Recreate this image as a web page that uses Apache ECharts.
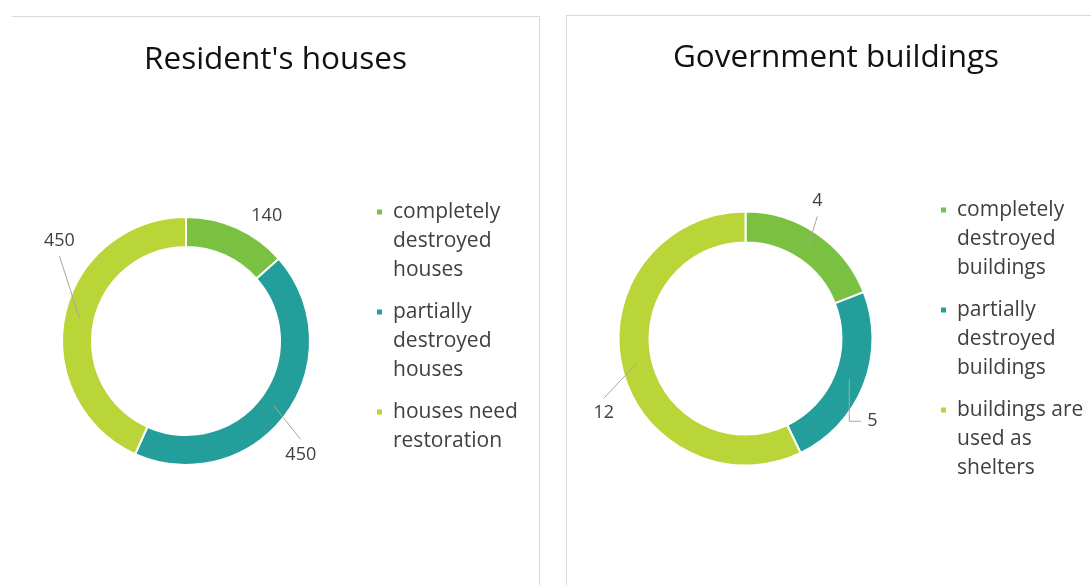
<!DOCTYPE html>
<html>
<head>
<meta charset="utf-8">
<title>Damage survey</title>
<script src="https://cdn.jsdelivr.net/npm/echarts@6/dist/echarts.min.js"></script>
<style>
  html, body { margin: 0; padding: 0; background: #fff; width: 1091px; height: 585px; overflow: hidden; }
  .panel { position: absolute; box-sizing: border-box; border: 0 solid #d9d9d9; }
  #panelHouses { left: 12px; top: 16px; width: 528px; height: 620px; border-top-width: 1px; border-right-width: 1px; }
  #panelBuildings { left: 566px; top: 15px; width: 539px; height: 620px; border-top-width: 1px; border-left-width: 1px; }
  .chart { position: absolute; left: 0; top: 0; right: 0; bottom: 0; }
</style>
</head>
<body>
<div class="panel" id="panelHouses"><div class="chart" id="chartHouses"></div></div>
<div class="panel" id="panelBuildings"><div class="chart" id="chartBuildings"></div></div>
<script>
// Resident's houses
const houseTitle = "Resident's houses";
const houseCategories = ['completely\ndestroyed\nhouses', 'partially\ndestroyed\nhouses', 'houses need\nrestoration'];
const houseValues = [140, 450, 450];

// Government buildings
const buildingTitle = 'Government buildings';
const buildingCategories = ['completely\ndestroyed\nbuildings', 'partially\ndestroyed\nbuildings', 'buildings are\nused as\nshelters'];
const buildingValues = [4, 5, 12];

const sliceColors = ['#7AC142', '#239E9A', '#B9D538'];
const FONT = 'Open Sans';
const LINE_H = 29;

// Label placement relative to the middle of each ring segment, and how the leader attaches
const houseLeaders = [
  { dx: 36, dy: -26, attach: 'none' },
  { dx: 27, dy: 49, attach: 'top' },
  { dx: -20, dy: -77, attach: 'bottom' }
];
const buildingLeaders = [
  { dx: 9, dy: -45, attach: 'bottom' },
  { dx: 23, dy: 42, attach: 'elbow' },
  { dx: -33, dy: 50, attach: 'top' }
];

function leaderLayout(values, center, radius, leaders) {
  const total = values.reduce((a, b) => a + b, 0);
  const rMid = (radius[0] + radius[1]) / 2;
  return function (params) {
    const i = params.dataIndex;
    let before = 0;
    for (let k = 0; k < i; k++) before += values[k];
    const mid = (before + values[i] / 2) / total * Math.PI * 2;
    const ax = center[0] + rMid * Math.sin(mid);
    const ay = center[1] - rMid * Math.cos(mid);
    const L = leaders[i];
    const lx = ax + L.dx, ly = ay + L.dy;
    const rect = params.labelRect;
    const halfH = rect.height / 2 + 6;
    const halfW = rect.width / 2 + 6;
    const out = { x: lx, y: ly, align: 'center', verticalAlign: 'middle' };
    if (L.attach === 'top') out.labelLinePoints = [[ax, ay], [lx, ly - halfH]];
    else if (L.attach === 'bottom') out.labelLinePoints = [[ax, ay], [lx, ly + halfH]];
    else if (L.attach === 'elbow') out.labelLinePoints = [[ax, ay], [ax, ly], [lx - halfW, ly]];
    return out;
  };
}

// One legend per entry so the marker sits beside the first line of a wrapped name
function legendsFor(categories, left, firstIconY) {
  return categories.map(function (name, i) {
    const lines = name.split('\n').length;
    return {
      data: [name],
      orient: 'vertical',
      left: left,
      top: firstIconY + 100 * i - (LINE_H / 2) * (2 * lines - 1),
      padding: 0,
      itemWidth: 7,
      itemHeight: 7,
      icon: 'rect',
      selectedMode: false,
      formatter: function (n) { return '\n'.repeat(lines - 1) + n; },
      textStyle: {
        fontFamily: FONT, fontSize: 21, lineHeight: LINE_H, color: '#404040',
        padding: [0, 0, 0, 5]
      }
    };
  });
}

function donutOption(title, titleTop, categories, values, center, radius, leaders, legendLeft, legendTop) {
  const data = categories.map(function (name, i) { return { name: name, value: values[i] }; });
  return {
    animation: false,
    color: sliceColors,
    title: {
      text: title, left: 'center', top: titleTop, padding: 0,
      textStyle: { fontFamily: FONT, fontSize: 31.5, lineHeight: 40, fontWeight: 'normal', color: '#111' }
    },
    legend: legendsFor(categories, legendLeft, legendTop),
    series: [
      {
        // the ring itself
        type: 'pie',
        z: 1,
        center: center,
        radius: radius,
        startAngle: 90,
        clockwise: true,
        emphasis: { disabled: true },
        itemStyle: { borderColor: '#fff', borderWidth: 2 },
        label: { show: false },
        labelLine: { show: false },
        data: data
      },
      {
        // same slices, unfilled and stacked above, carrying the value labels and leaders
        type: 'pie',
        z: 3,
        center: center,
        radius: radius,
        startAngle: 90,
        clockwise: true,
        avoidLabelOverlap: false,
        silent: true,
        emphasis: { disabled: true },
        itemStyle: { color: 'rgba(0,0,0,0)', borderWidth: 0 },
        label: {
          show: true, position: 'outside', formatter: '{c}',
          fontFamily: FONT, fontSize: 18, color: '#404040'
        },
        labelLine: {
          show: true, showAbove: true, length: 4, length2: 4,
          lineStyle: { color: '#a6a6a6', width: 1 }
        },
        labelLayout: leaderLayout(values, center, radius, leaders),
        data: data.map(function (d, i) {
          const item = { name: d.name, value: d.value };
          if (leaders[i].attach === 'none') item.labelLine = { show: false };
          return item;
        })
      }
    ]
  };
}

const houses = echarts.init(document.getElementById('chartHouses'));
houses.setOption(donutOption(houseTitle, 23.5, houseCategories, houseValues,
  [174, 324], [94, 124], houseLeaders, 363, 195));

const buildings = echarts.init(document.getElementById('chartBuildings'));
buildings.setOption(donutOption(buildingTitle, 22.5, buildingCategories, buildingValues,
  [178.5, 322.5], [96, 127], buildingLeaders, 372, 194));
</script>
</body>
</html>
